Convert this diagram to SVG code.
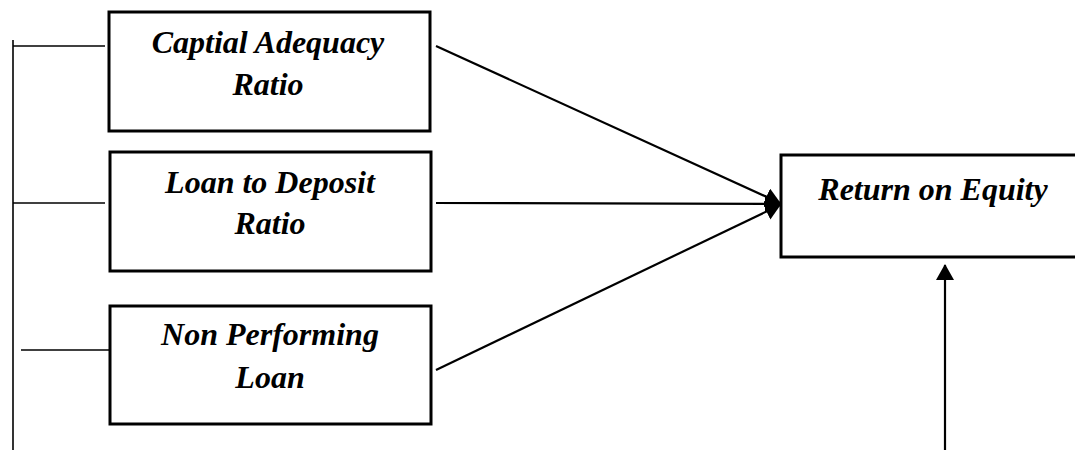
<svg xmlns="http://www.w3.org/2000/svg" width="1075" height="450" viewBox="0 0 1075 450">
<style>
.box{fill:#fff;stroke:#000;stroke-width:3}
.lbl{font-family:"Liberation Serif","Times New Roman",serif;font-weight:bold;font-style:italic;font-size:32px;fill:#000;text-anchor:middle}
.ln{stroke:#000;stroke-width:2.2;fill:none}
.thin{stroke:#000;stroke-width:1.6;fill:none}
</style>
<defs>
<marker id="ah" markerWidth="16" markerHeight="18" refX="15" refY="9" orient="auto" markerUnits="userSpaceOnUse">
<path d="M0,0 L16,9 L0,18 z" fill="#000"/>
</marker>
</defs>
<rect width="1075" height="450" fill="#fff"/>
<g id="connectors">
<line class="thin" x1="13" y1="40" x2="13" y2="450"/>
<line class="thin" x1="13" y1="46" x2="105" y2="46"/>
<line class="thin" x1="13" y1="203" x2="105" y2="203"/>
<line class="thin" x1="21" y1="350" x2="112" y2="350"/>
<line class="ln" x1="436" y1="46" x2="780" y2="203" marker-end="url(#ah)"/>
<line class="ln" x1="436" y1="203" x2="780" y2="204" marker-end="url(#ah)"/>
<line class="ln" x1="436" y1="370" x2="780" y2="205" marker-end="url(#ah)"/>
<line class="ln" x1="945" y1="450" x2="945" y2="265" marker-end="url(#ah)"/>
</g>
<g id="car">
<rect class="box" x="109" y="12" width="321" height="119"/>
<text class="lbl" x="268" y="53">Captial Adequacy</text>
<text class="lbl" x="268" y="95">Ratio</text>
</g>
<g id="ldr">
<rect class="box" x="110" y="152" width="321" height="119"/>
<text class="lbl" x="270" y="193">Loan to Deposit</text>
<text class="lbl" x="270" y="234">Ratio</text>
</g>
<g id="npl">
<rect class="box" x="110" y="306" width="321" height="118"/>
<text class="lbl" x="270" y="345">Non Performing</text>
<text class="lbl" x="270" y="388">Loan</text>
</g>
<g id="roe">
<rect class="box" x="781" y="155" width="310" height="102"/>
<text class="lbl" x="933" y="200">Return on Equity</text>
</g>
</svg>
